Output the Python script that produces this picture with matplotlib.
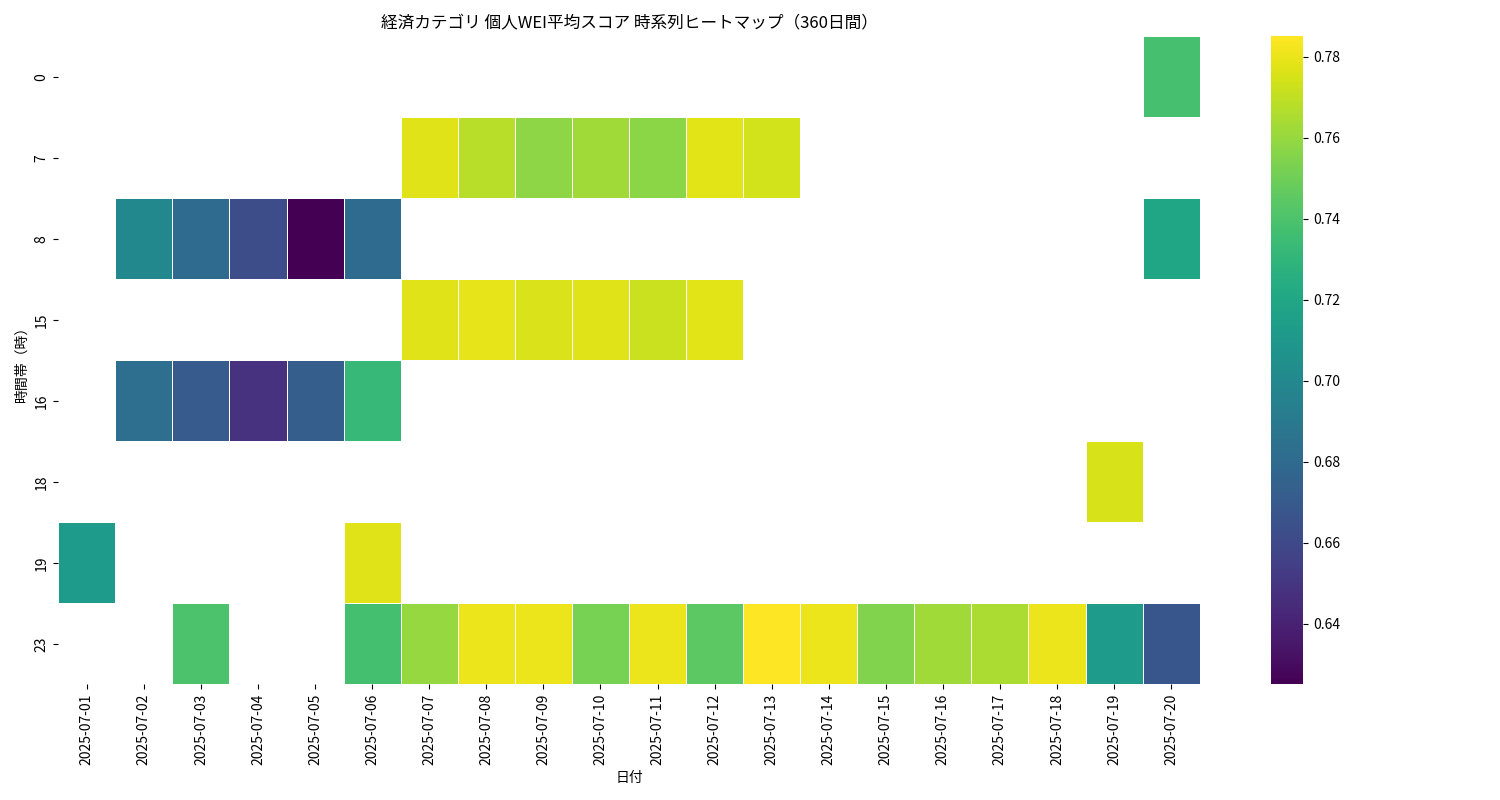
import numpy as np
import pandas as pd
import matplotlib
matplotlib.use('Agg')
import matplotlib.pyplot as plt
import seaborn as sns

plt.rcParams['font.family'] = 'Noto Sans CJK JP'

dates = ['2025-07-%02d' % d for d in range(1, 21)]
hours = [0, 7, 8, 15, 16, 18, 19, 23]

# score per hour: {date index: value}
h0 = {19: 0.738}
h7 = {6: 0.777, 7: 0.768, 8: 0.758, 9: 0.762, 10: 0.757, 11: 0.778, 12: 0.774}
h8 = {1: 0.700, 2: 0.680, 3: 0.662, 4: 0.625, 5: 0.680, 19: 0.720}
h15 = {6: 0.777, 7: 0.779, 8: 0.776, 9: 0.777, 10: 0.772, 11: 0.778}
h16 = {1: 0.682, 2: 0.670, 3: 0.648, 4: 0.672, 5: 0.732}
h18 = {18: 0.775}
h19 = {0: 0.712, 5: 0.777}
h23 = {2: 0.740, 5: 0.737, 6: 0.760, 7: 0.780, 8: 0.780, 9: 0.752, 10: 0.780,
       11: 0.745, 12: 0.785, 13: 0.780, 14: 0.755, 15: 0.762, 16: 0.765,
       17: 0.780, 18: 0.712, 19: 0.668}
rows = [h0, h7, h8, h15, h16, h18, h19, h23]

grid = np.full((len(hours), len(dates)), np.nan)
for i, r in enumerate(rows):
    for j, v in r.items():
        grid[i, j] = v
df = pd.DataFrame(grid, index=hours, columns=dates)

fig, ax = plt.subplots(figsize=(15, 8), dpi=100)
sns.heatmap(df, cmap='viridis', linewidths=0.5, linecolor='white', ax=ax)
ax.set_title('経済カテゴリ 個人WEI平均スコア 時系列ヒートマップ（360日間）')
ax.set_xlabel('日付')
ax.set_ylabel('時間帯（時）')
plt.tight_layout()
plt.savefig('out.png')
